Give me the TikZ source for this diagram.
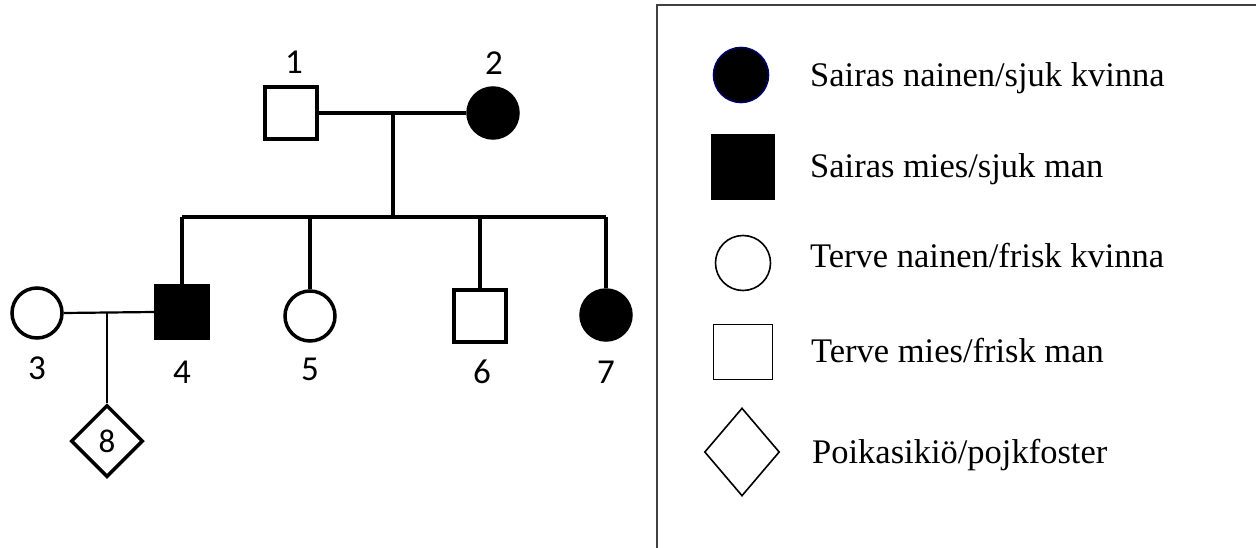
\documentclass[tikz,border=0pt]{standalone}
\usepackage{fontspec}
\setmainfont{Liberation Serif}
\newfontfamily\digitfont{Carlito}
\usetikzlibrary{shapes.geometric}
\begin{document}
\begin{tikzpicture}[x=1pt,y=-1pt,
  ped/.style={draw=black,line width=3.5pt,inner sep=0pt},
  sqr/.style={ped,rectangle,minimum size=52pt},
  circ/.style={ped,circle,minimum size=50pt},
  aff/.style={fill=black},
  dia/.style={ped,diamond,minimum width=72pt,minimum height=72pt,font=\digitfont\fontsize{33}{33}\selectfont},
  num/.style={anchor=base,inner sep=0pt,font=\digitfont\fontsize{35}{35}\selectfont},
  thickline/.style={line width=4pt},
  thinline/.style={line width=2.2pt},
  leg/.style={draw=black,line width=1.6pt,inner sep=0pt},
  legtxt/.style={anchor=base west,inner sep=0pt,font=\fontsize{34.5}{34.5}\selectfont}]
\useasboundingbox (0,0) rectangle (1256,548);
\fill[white] (0,0) rectangle (1256,548);
% generation I
\node[sqr] (n1) at (291,113) {};
\node[circ,aff] (n2) at (493,113) {};
\node[num] (l1) at (294,74) {1};
\node[num] (l2) at (494,75) {2};
\coordinate (m12) at (393,113);
\coordinate (sib) at (393,217);
% generation II
\node[circ] (n3) at (37,313) {};
\node[sqr,aff] (n4) at (182,312) {};
\node[circ] (n5) at (310,316) {};
\node[sqr] (n6) at (480,316) {};
\node[circ,aff] (n7) at (606,315) {};
\node[num] (l3) at (37,379) {3};
\node[num] (l4) at (182,383) {4};
\node[num] (l5) at (310,380) {5};
\node[num] (l6) at (482,383) {6};
\node[num] (l7) at (606,383) {7};
\coordinate (m34) at (107,312);
\node[dia] (n8) at (107,441) {8};
% connectors
\draw[thickline] (n1.east) -- (n2.west);
\draw[thickline] (m12) -- (sib);
\draw[thickline] (n4.north |- sib) -- (n7.north |- sib);
\draw[thickline] (n4.north |- sib) -- (n4.north);
\draw[thickline] (n5.north |- sib) -- (n5.north);
\draw[thickline] (n6.north |- sib) -- (n6.north);
\draw[thickline] (n7.north |- sib) -- (n7.north);
\draw[thinline] (n3.east) -- (n4.west);
\draw[thinline] (m34) -- (n8.north);
% legend
\draw[line width=2pt,draw=black!75] (657,560) -- (657,5) -- (1270,5);
\node[leg,circle,fill=black,draw=black!60!blue,minimum size=55pt] (k1) at (741,75) {};
\node[legtxt] (t1) at (810,87) {Sairas nainen/sjuk kvinna};
\node[leg,rectangle,fill=black,minimum width=62pt,minimum height=64pt] (k2) at (743,167) {};
\node[legtxt] (t2) at (810,178) {Sairas mies/sjuk man};
\node[leg,circle,minimum size=55pt] (k3) at (743,263) {};
\node[legtxt] (t3) at (810,268) {Terve nainen/frisk kvinna};
\node[leg,rectangle,minimum width=59pt,minimum height=55pt] (k4) at (743,352) {};
\node[legtxt] (t4) at (811,362) {Terve mies/frisk man};
\node[leg,diamond,minimum width=75pt,minimum height=88pt] (k5) at (742,452) {};
\node[legtxt] (t5) at (812,463) {Poikasikiö/pojkfoster};
\end{tikzpicture}
\end{document}
